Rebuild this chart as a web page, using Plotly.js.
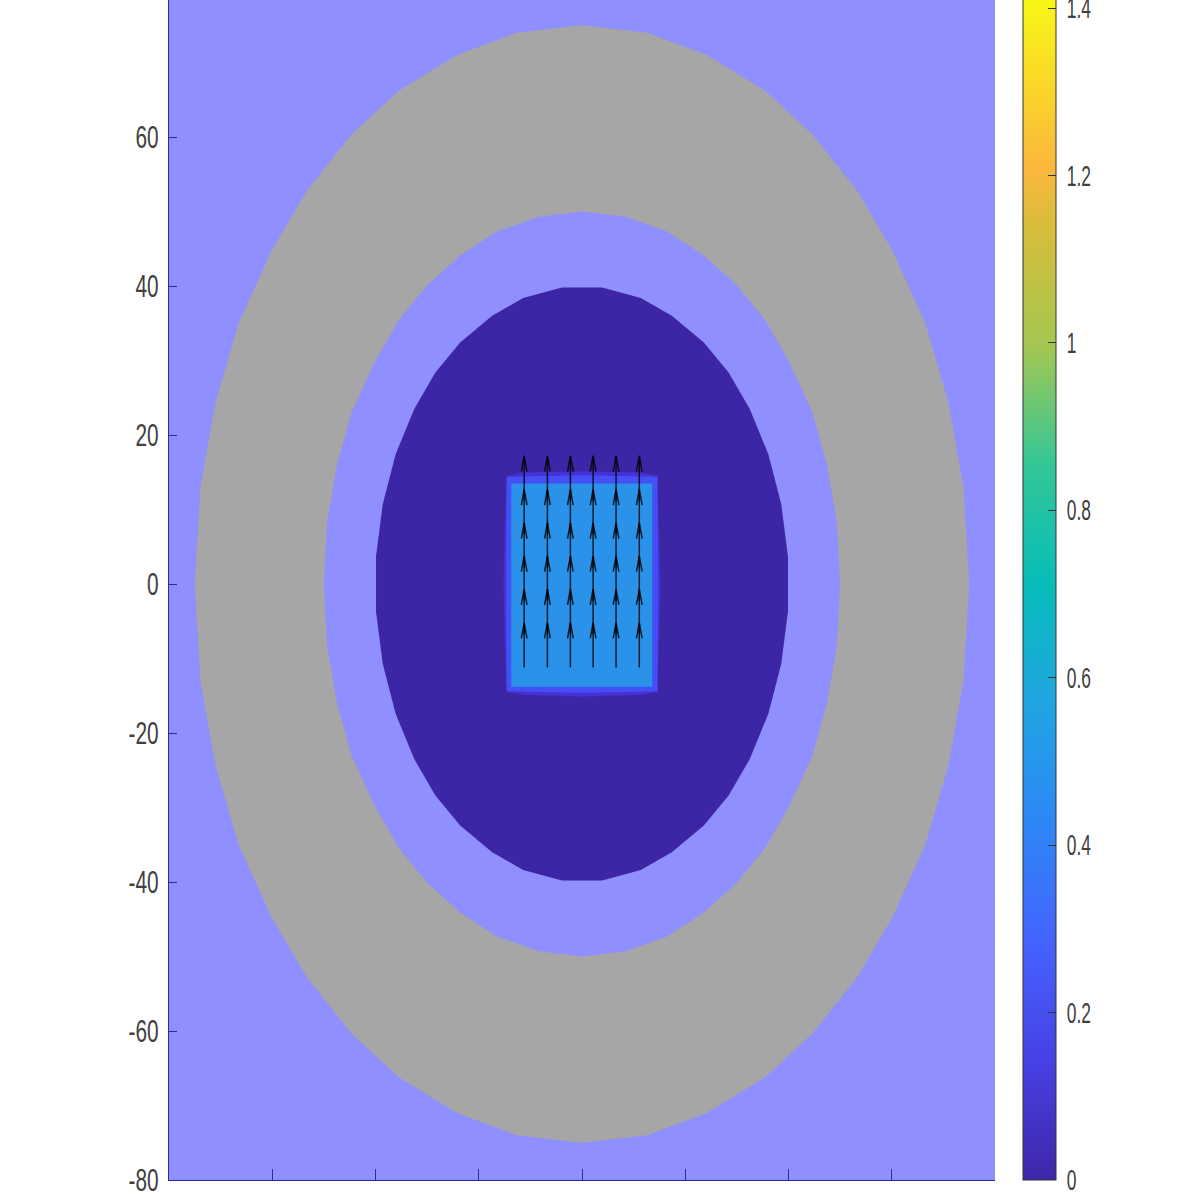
<!DOCTYPE html>
<html>
<head>
<meta charset="utf-8">
<script src="https://cdn.plot.ly/plotly-3.0.1.min.js"></script>
<style>
html, body { margin: 0; padding: 0; overflow: hidden; background: #fff; height: 1196px; }
#plot { position: absolute; left: 0; top: -30px; width: 1196px; height: 1256px; }
</style>
</head>
<body>
<div id="plot"></div>
<script>
// outer ring boundary (gray)
const outerX = [0, -12.6, -24.2, -35.5, -44.7, -53.2, -60.1, -66.5, -71, -73.9, -75, -73.9, -71, -66.5, -60.1, -53.2, -44.7, -35.5, -24.2, -12.6, 0, 12.6, 24.2, 35.5, 44.7, 53.2, 60.1, 66.5, 71, 73.9, 75, 73.9, 71, 66.5, 60.1, 53.2, 44.7, 35.5, 24.2, 12.6, 0];
const outerY = [75, 74, 71, 66.2, 60.3, 52.9, 44.8, 35, 24.3, 13, 0, -13, -24.3, -35, -44.8, -52.9, -60.3, -66.2, -71, -74, -75, -74, -71, -66.2, -60.3, -52.9, -44.8, -35, -24.3, -13, 0, 13, 24.3, 35, 44.8, 52.9, 60.3, 66.2, 71, 74, 75];

// inner edge of the ring
const middleX = [0, -8.4, -16.5, -23.6, -30, -35.5, -40, -44.5, -47.4, -49.4, -50, -49.4, -47.4, -44.5, -40, -35.5, -30, -23.6, -16.5, -8.4, 0, 8.4, 16.5, 23.6, 30, 35.5, 40, 44.5, 47.4, 49.4, 50, 49.4, 47.4, 44.5, 40, 35.5, 30, 23.6, 16.5, 8.4, 0];
const middleY = [50, 49.3, 47.3, 44.1, 40.1, 35.4, 30, 23.3, 16.2, 8.2, 0, -8.2, -16.2, -23.3, -30, -35.4, -40.1, -44.1, -47.3, -49.3, -50, -49.3, -47.3, -44.1, -40.1, -35.4, -30, -23.3, -16.2, -8.2, 0, 8.2, 16.2, 23.3, 30, 35.4, 40.1, 44.1, 47.3, 49.3, 50];

// dark disc
const discX = [3.9, -3.9, -11.4, -17.4, -23.6, -28.4, -32.5, -36.1, -38.6, -39.9, -39.9, -38.6, -36.1, -32.5, -28.4, -23.6, -17.4, -11.4, -3.9, 3.9, 11.4, 17.4, 23.6, 28.4, 32.5, 36.1, 38.6, 39.9, 39.9, 38.6, 36.1, 32.5, 28.4, 23.6, 17.4, 11.4, 3.9];
const discY = [39.8, 39.8, 38.4, 36, 32.4, 28.4, 23.5, 17.4, 10.7, 3.7, -3.7, -10.7, -17.4, -23.5, -28.4, -32.4, -36, -38.4, -39.8, -39.8, -38.4, -36, -32.4, -28.4, -23.5, -17.4, -10.7, -3.7, 3.7, 10.7, 17.4, 23.5, 28.4, 32.4, 36, 38.4, 39.8];

// block edge bands, outside to inside
const bandOuterX = [-14.6, -11, 0, 11, 14.6, 14.9, 15.2, 14.9, 14.6, 11, 0, -11, -14.6, -14.9, -15.2, -14.9, -14.6];
const bandOuterY = [14.5, 15, 15.1, 15, 14.5, 8, 0, -8, -14.5, -14.9, -15.1, -14.9, -14.5, -8, 0, 8, 14.5];
const bandMidX = [-14.6, 0, 14.6, 14.7, 14.6, 0, -14.6, -14.7, -14.6];
const bandMidY = [14.4, 14.6, 14.4, 0, -14.4, -14.6, -14.4, 0, 14.4];
const blockX = [-13.7, 13.6, 13.6, -13.7, -13.7];
const blockY = [13.5, 13.5, -13.8, -13.8, 13.5];

// arrows
const arrowCols = [-11.2, -6.7, -2.25, 2.15, 6.6, 11.1];
const arrowTails = [-11.2, -6.7, -2.25, 2.2, 6.7, 11.2];
const arrowLength = 6;
const headLength = 2.1;
const headHalfWidth = 0.55;

// axis and colorbar
const yTicks = [-80, -60, -40, -20, 0, 20, 40, 60, 80];
const xTicks = [-80, -60, -40, -20, 0, 20, 40, 60, 80];
const cbarTicks = [0, 0.2, 0.4, 0.6, 0.8, 1, 1.2, 1.4];
const cbarMax = 1.424;
const parula = [
    [0, '#3e26a8'], [0.1, '#4741e5'], [0.2, '#4563fd'], [0.3, '#2d87f7'],
    [0.4, '#20a5e2'], [0.5, '#07bdb9'], [0.6, '#33c797'], [0.7, '#a4c751'],
    [0.8, '#d8bd3a'], [0.85, '#fbb83c'], [0.9, '#f9cf2e'], [1, '#f9fb14']
];

const yFont = { family: '"Liberation Sans", sans-serif', size: 32, color: '#404040' };
const cbarFont = { family: '"Liberation Sans", sans-serif', size: 29, color: '#404040' };
const blue = '#8f8fff';

function region(x, y, color) {
    return {
        x: x, y: y, type: 'scatter', mode: 'lines', fill: 'toself',
        fillcolor: color, line: { width: 0, color: color }, hoverinfo: 'skip', showlegend: false
    };
}

const scaleTrace = {
    x: [0], y: [0], type: 'scatter', mode: 'markers', showlegend: false, hoverinfo: 'skip',
    marker: {
        size: 1, color: [0], cmin: 0, cmax: cbarMax, colorscale: parula, showscale: true,
        colorbar: {
            x: 1.0339, xanchor: 'left', xpad: 0, y: 0, yanchor: 'bottom', ypad: 0,
            len: 1, lenmode: 'fraction', thickness: 33, thicknessmode: 'pixels',
            tickmode: 'array', tickvals: cbarTicks, ticktext: cbarTicks.map(String),
            ticks: 'inside', ticklen: 8, tickwidth: 1, tickcolor: '#333',
            outlinewidth: 1, outlinecolor: '#333', tickfont: cbarFont
        }
    }
};

// quiver: stem plus two barbs per arrow, all in one line trace
let quiverX = [];
let quiverY = [];
arrowCols.forEach(function (cx) {
    arrowTails.forEach(function (ty) {
        const tip = ty + arrowLength;
        quiverX.push(cx, cx, null, cx - headHalfWidth, cx, cx + headHalfWidth, null);
        quiverY.push(ty, tip, null, tip - headLength, tip, tip - headLength, null);
    });
});

const traces = [
    scaleTrace,
    region(outerX, outerY, '#a6a6a6'),
    region(middleX, middleY, blue),
    region(discX, discY, '#3d26a6'),
    region(bandOuterX, bandOuterY, '#4730d6'),
    region(bandMidX, bandMidY, '#4450f5'),
    region(blockX, blockY, '#2a92e8'),
    {
        x: quiverX, y: quiverY, type: 'scatter', mode: 'lines', connectgaps: false,
        line: { color: 'rgba(0,0,0,0.8)', width: 1.5 }, hoverinfo: 'skip', showlegend: false
    }
];

const layout = {
    width: 1196, height: 1256,
    margin: { l: 168.5, r: 201, t: 18, b: 46 },
    paper_bgcolor: '#fff', plot_bgcolor: blue,
    showlegend: false,
    xaxis: {
        range: [-80, 80], tickmode: 'array', tickvals: xTicks, showticklabels: false,
        ticks: 'inside', ticklen: 11, tickcolor: '#2b2ba0', tickwidth: 1,
        showline: true, linecolor: '#2b2ba0', linewidth: 1, showgrid: false, zeroline: false
    },
    yaxis: {
        range: [-80, 80], tickmode: 'array', tickvals: yTicks, ticktext: yTicks.map(String),
        ticks: 'inside', ticklen: 8, tickcolor: '#2b2ba0', tickwidth: 1, tickfont: yFont,
        ticklabelstandoff: 3,
        showline: true, linecolor: '#2b2ba0', linewidth: 1, showgrid: false, zeroline: false
    }
};

// the labels in the original are much narrower than any installed face, so squeeze them
function squeeze(selector, ratio, dx) {
    document.querySelectorAll(selector).forEach(function (t) {
        const w = t.getComputedTextLength();
        t.setAttribute('lengthAdjust', 'spacingAndGlyphs');
        t.setAttribute('textLength', (w * ratio).toFixed(1));
        if (dx) t.setAttribute('dx', dx);
    });
}

Plotly.newPlot('plot', traces, layout, { displayModeBar: false, staticPlot: true }).then(function () {
    squeeze('.ytick text', 0.65, 0);
    squeeze('.colorbar text', 0.6, 4);
});
</script>
</body>
</html>
